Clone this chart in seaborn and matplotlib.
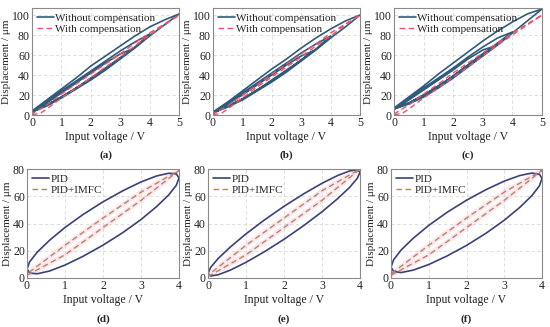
import numpy as np
import seaborn as sns
import matplotlib.pyplot as plt

# ---- top row: open-loop hysteresis, without / with compensation ----
a_volt_wo = [0, 0.5, 1, 1.5, 2, 2.5, 3, 3.5, 4, 4.5, 5,
             4.5, 4, 3.5, 3, 2.5, 2, 1.5, 1, 0.5, 0,
             0.5, 1, 1.5, 2, 2.5, 3, 3.5, 4,
             3.5, 3, 2.5, 2, 1.5, 1, 0.5, 0,
             0.5, 1, 1.5, 2, 2.5, 3, 3.4,
             3, 2.5, 2, 1.5, 1, 0.5, 0]
a_disp_wo = [3, 9, 17, 26, 35, 45, 56, 67, 79, 90, 101,
             95, 88, 79, 69, 59, 49, 37, 26, 15, 4,
             10, 18, 27, 36, 46, 57, 68, 81,
             73, 64, 54, 44, 34, 24, 13, 3,
             10, 18, 27, 37, 47, 57, 66,
             61, 52, 42, 32, 22, 12, 3]
a_volt_w = [0, 0.3, 0.5, 1, 1.5, 2, 2.5, 3, 3.5, 4, 4.5, 5,
            4.5, 4, 3.5, 3, 2.5, 2, 1.5, 1, 0.5, 0]
a_disp_w = [0, 2, 6, 17, 27, 37, 48, 58, 69, 80, 90, 100,
            91, 82, 72, 61, 51, 41, 31, 21, 10, 1]

b_volt_wo = a_volt_wo
b_disp_wo = [2, 8, 15, 24, 33, 43, 54, 65, 77, 88, 100,
             94, 86, 77, 67, 56, 46, 35, 24, 13, 3,
             9, 16, 25, 34, 44, 55, 66, 79,
             71, 62, 52, 42, 32, 22, 12, 2,
             9, 16, 25, 35, 45, 55, 64,
             59, 50, 40, 30, 20, 11, 2]
b_volt_w = a_volt_w
b_disp_w = [0, 2, 6, 17, 28, 38, 48, 58, 69, 79, 90, 100,
            91, 82, 71, 61, 51, 41, 30, 20, 9, 1]

c_volt_wo = a_volt_wo
c_disp_wo = [6, 11, 18, 27, 37, 48, 59, 70, 82, 94, 106,
             101, 93, 84, 74, 63, 52, 41, 29, 18, 7,
             12, 20, 29, 39, 50, 61, 72, 83,
             77, 68, 58, 47, 37, 27, 16, 6,
             12, 20, 29, 39, 50, 61, 69,
             65, 56, 45, 35, 25, 15, 6]
c_volt_w = a_volt_w
c_disp_w = [0, 2, 6, 17, 27, 38, 48, 59, 70, 80, 90, 100,
            91, 82, 72, 62, 52, 42, 31, 21, 10, 1]

# ---- bottom row: closed loop, PID vs PID+IMFC ----
ell_volt = [0, 0.07, 0.27, 0.59, 1, 1.48, 2, 2.52, 3, 3.41, 3.73, 3.93, 4,
            3.93, 3.73, 3.41, 3, 2.52, 2, 1.48, 1, 0.59, 0.27, 0.07, 0]
d_disp_pid = [6.6, 11.9, 19.0, 27.6, 37.1, 46.7, 55.9, 64.0, 70.5, 74.9, 76.9, 76.4, 73.4,
              68.1, 61.0, 52.4, 42.9, 33.3, 24.1, 16.0, 9.5, 5.1, 3.1, 3.6, 6.6]
e_disp_pid = [3.4, 7.8, 14.4, 22.8, 32.4, 42.5, 52.6, 61.8, 69.5, 75.2, 78.6, 79.5, 77.6,
              73.2, 66.6, 58.2, 48.6, 38.5, 28.4, 19.2, 11.5, 5.8, 2.4, 1.5, 3.4]
f_disp_pid = [8.0, 13.4, 20.6, 29.2, 38.6, 48.1, 57.1, 64.9, 71.1, 75.2, 77.0, 76.2, 73.0,
              67.6, 60.4, 51.8, 42.4, 32.9, 23.9, 16.1, 9.9, 5.8, 4.0, 4.8, 8.0]

imfc_volt = [0, 1, 2, 3, 4, 3, 2, 1, 0]
d_disp_imfc = [2, 17, 37, 57, 79, 63, 44, 24, 3]
e_disp_imfc = [1, 17, 37, 57, 80, 64, 44, 24, 2]
f_disp_imfc = [2, 17, 37, 57, 79, 63, 44, 24, 3]

sns.set_theme(style="whitegrid")
plt.rcParams['font.family'] = ['Liberation Serif', 'DejaVu Serif']

fig = plt.figure(figsize=(5.5, 3.27), dpi=100)

W, H = 550, 327
def px_axes(left, right, top, bottom):
    return fig.add_axes([left / W, 1 - bottom / H, (right - left) / W, (bottom - top) / H])

blue, red = '#2f5b7c', '#e9546b'
navy, brown = '#3b4178', '#b5836a'

top = [(32, 179, 'a', a_volt_wo, a_disp_wo, a_volt_w, a_disp_w),
       (213, 360, 'b', b_volt_wo, b_disp_wo, b_volt_w, b_disp_w),
       (394, 542, 'c', c_volt_wo, c_disp_wo, c_volt_w, c_disp_w)]
bot = [(27, 179, 'd', d_disp_pid, d_disp_imfc),
       (208, 360, 'e', e_disp_pid, e_disp_imfc),
       (391, 542, 'f', f_disp_pid, f_disp_imfc)]

def style(ax, xmax, ymax, yticks, label):
    ax.set_xlim(0, xmax)
    ax.set_ylim(0, ymax)
    ax.set_xticks(range(0, xmax + 1))
    ax.set_yticks(yticks)
    ax.grid(True, color='#d8d8d8', linestyle=(0, (4, 3)), linewidth=0.6)
    for s in ax.spines.values():
        s.set_color('#8a8a8a')
        s.set_linewidth(0.8)
    ax.tick_params(labelsize=8.5, colors='#222222', pad=1.5, length=0)
    ax.set_xlabel('Input voltage / V', fontsize=8.5, labelpad=1.5, color='#222222')
    ax.set_ylabel('Displacement / μm', fontsize=8, labelpad=1, color='#222222')
    ax.text(0.5, -0.33, '(' + label + ')', transform=ax.transAxes, ha='center',
            va='top', fontsize=8, fontweight='bold')
    ax.legend(loc='upper left', frameon=False, fontsize=8, handlelength=1.5,
              handletextpad=0.15, borderaxespad=0.15, borderpad=0.3, labelspacing=0.1)

for left, right, lab, vwo, dwo, vw, dw in top:
    ax = px_axes(left, right, 8, 115)
    sns.lineplot(x=vwo, y=dwo, sort=False, estimator=None, color=blue, lw=1.2,
                 ax=ax, label='Without compensation')
    sns.lineplot(x=vw, y=dw, sort=False, estimator=None, color=red, lw=1.0,
                 ax=ax, label='With compensation', linestyle=(0, (4, 2.5)))
    style(ax, 5, 107, [0, 20, 40, 60, 80, 100], lab)

for left, right, lab, dpid, dimfc in bot:
    ax = px_axes(left, right, 169, 278)
    sns.lineplot(x=imfc_volt, y=dimfc, sort=False, estimator=None, color='#f4a6b4',
                 lw=3.5, alpha=0.25, ax=ax)
    sns.lineplot(x=ell_volt, y=dpid, sort=False, estimator=None, color=navy, lw=1.2,
                 ax=ax, label='PID')
    sns.lineplot(x=imfc_volt, y=dimfc, sort=False, estimator=None, color=brown, lw=1.0,
                 ax=ax, label='PID+IMFC', linestyle=(0, (4, 2.5)))
    style(ax, 4, 80, [0, 20, 40, 60, 80], lab)

fig.savefig('out.png', dpi=100)
